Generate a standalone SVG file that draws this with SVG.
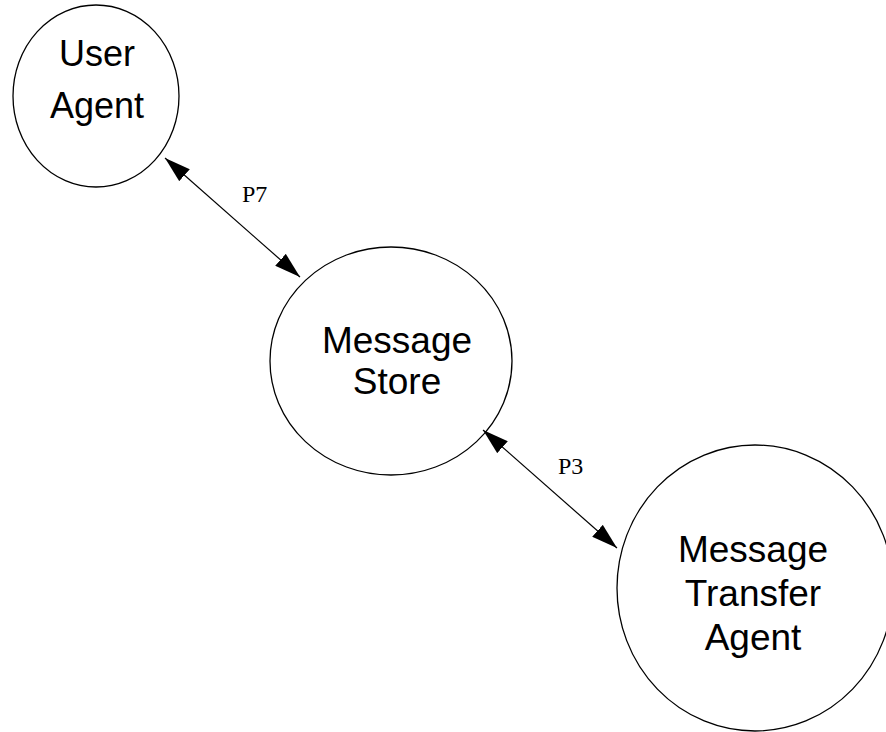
<svg xmlns="http://www.w3.org/2000/svg" width="886" height="732" viewBox="0 0 886 732">
<style>
.node{fill:#fff;stroke:#000;stroke-width:1.3}
.lbl{font-family:"Liberation Sans",Arial,sans-serif;fill:#000;text-anchor:middle}
.plbl{font-family:"Liberation Serif","Times New Roman",serif;font-size:24px;fill:#000}
.conn{stroke:#000;stroke-width:1.2;fill:none;marker-start:url(#ah);marker-end:url(#ah)}
</style>
<defs>
<marker id="ah" viewBox="0 0 26 16" refX="26" refY="8" markerWidth="26" markerHeight="16" markerUnits="userSpaceOnUse" orient="auto-start-reverse">
<path d="M0,0 L26,8 L0,16 z" fill="#000"/>
</marker>
</defs>
<rect width="886" height="732" fill="#fff"/>
<g id="user-agent">
<ellipse class="node" cx="96" cy="96" rx="83" ry="91"/>
<text class="lbl" font-size="36" x="97" y="66">User</text>
<text class="lbl" font-size="36" x="97" y="118">Agent</text>
</g>
<g id="message-store">
<ellipse class="node" cx="391" cy="361" rx="121" ry="114"/>
<text class="lbl" font-size="37" x="397" y="353">Message</text>
<text class="lbl" font-size="37" x="397" y="394">Store</text>
</g>
<g id="message-transfer-agent">
<ellipse class="node" cx="755" cy="588" rx="138" ry="143"/>
<text class="lbl" font-size="37" x="753" y="562">Message</text>
<text class="lbl" font-size="37" x="753" y="606">Transfer</text>
<text class="lbl" font-size="37" x="753" y="650">Agent</text>
</g>
<g id="connectors">
<line class="conn" x1="165" y1="158" x2="300" y2="277"/>
<text class="plbl" x="242" y="202">P7</text>
<line class="conn" x1="483" y1="430" x2="617" y2="548"/>
<text class="plbl" x="558" y="474">P3</text>
</g>
</svg>
